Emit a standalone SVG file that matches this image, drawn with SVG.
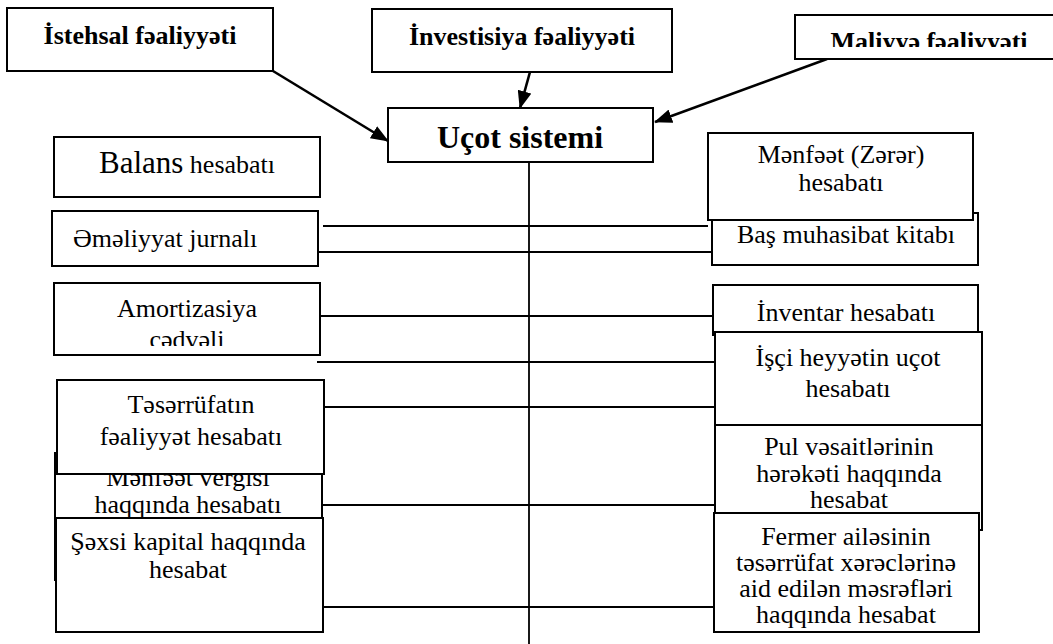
<svg xmlns="http://www.w3.org/2000/svg" width="1053" height="644" viewBox="0 0 1053 644">
<style>
.bx{fill:#fff;stroke:#000;stroke-width:2}
.t{font-family:"Liberation Serif","Times New Roman",serif;font-size:26px;fill:#000;text-anchor:middle}
.b{font-weight:bold}
.ln{stroke:#000;stroke-width:1.8;fill:none}
.ar{stroke:#000;stroke-width:2.6;fill:none;marker-end:url(#ah)}
</style>
<defs>
<marker id="ah" viewBox="0 0 18 14" refX="17" refY="7" markerWidth="18" markerHeight="14" orient="auto" markerUnits="userSpaceOnUse"><path d="M0,0 L18,7 L0,14 z" fill="#000"/></marker>
<clipPath id="cMal"><rect x="796" y="16" width="257" height="31"/></clipPath>
<clipPath id="cAm"><rect x="55" y="284" width="264" height="62"/></clipPath>
<clipPath id="cFe"><rect x="715" y="514" width="263" height="117"/></clipPath>
</defs>
<rect width="1053" height="644" fill="#fff"/>
<g id="connectors">
<line class="ar" x1="273" y1="71" x2="388" y2="141"/>
<line class="ar" x1="530" y1="72" x2="520" y2="108"/>
<line class="ar" x1="827" y1="59" x2="655" y2="122"/>
<line class="ln" x1="529" y1="162" x2="529" y2="644"/>
<line class="ln" x1="323" y1="226" x2="708" y2="226"/>
<line class="ln" x1="318" y1="252" x2="712" y2="252"/>
<line class="ln" x1="320" y1="316" x2="713" y2="316"/>
<line class="ln" x1="317" y1="362" x2="715" y2="362"/>
<line class="ln" x1="324" y1="407" x2="715" y2="407"/>
<line class="ln" x1="322" y1="505" x2="714" y2="505"/>
<line class="ln" x1="323" y1="607" x2="714" y2="607"/>
</g>
<g id="istehsal"><rect class="bx" x="7" y="8" width="266" height="63"/><text class="t b" x="140" y="44">İstehsal fəaliyyəti</text></g>
<g id="investisiya"><rect class="bx" x="372" y="9" width="300" height="63"/><text class="t b" x="522" y="45">İnvestisiya fəaliyyəti</text></g>
<g id="maliyye"><rect class="bx" x="795" y="15" width="270" height="44"/><text class="t b" x="929" y="50" clip-path="url(#cMal)">Maliyyə fəaliyyəti</text></g>
<g id="ucot"><rect class="bx" x="388" y="108" width="265" height="54"/><text class="t b" x="520" y="148" style="font-size:32px">Uçot sistemi</text></g>
<g id="balans"><rect class="bx" x="54" y="137" width="266" height="60"/><text class="t" x="187" y="173"><tspan style="font-size:31px">Balans</tspan> hesabatı</text></g>
<g id="emeliyyat"><rect class="bx" x="52" y="211" width="266" height="55"/><text class="t" x="73" y="247" style="text-anchor:start">Əməliyyat jurnalı</text></g>
<g id="amortizasiya"><rect class="bx" x="54" y="283" width="266" height="72"/><g clip-path="url(#cAm)"><text class="t" x="187" y="317">Amortizasiya</text><text class="t" x="187" y="348">cədvəli</text></g></g>
<g id="menfeet-vergisi"><rect class="bx" x="55" y="453" width="267" height="127"/><text class="t" x="188" y="486">Mənfəət vergisi</text><text class="t" x="188" y="513">haqqında hesabatı</text></g>
<g id="teserrufat"><rect class="bx" x="57" y="380" width="267" height="94"/><text class="t" x="191" y="413">Təsərrüfatın</text><text class="t" x="191" y="445">fəaliyyət hesabatı</text></g>
<g id="sexsi"><rect class="bx" x="56" y="518" width="267" height="114"/><text class="t" x="188" y="550">Şəxsi kapital haqqında</text><text class="t" x="188" y="578">hesabat</text></g>
<g id="bas"><rect class="bx" x="712" y="213" width="266" height="52"/><text class="t" x="846" y="243">Baş muhasibat kitabı</text></g>
<g id="menfeet-zerer"><rect class="bx" x="708" y="133" width="265" height="87"/><text class="t" x="841" y="163">Mənfəət (Zərər)</text><text class="t" x="841" y="191">hesabatı</text></g>
<g id="inventar"><rect class="bx" x="713" y="285" width="265" height="50"/><text class="t" x="846" y="321">İnventar hesabatı</text></g>
<g id="isci"><rect class="bx" x="715" y="332" width="267" height="93"/><text class="t" x="848" y="366">İşçi heyyətin uçot</text><text class="t" x="848" y="397">hesabatı</text></g>
<g id="pul"><rect class="bx" x="715" y="425" width="267" height="105"/><text class="t" x="849" y="455">Pul vəsaitlərinin</text><text class="t" x="849" y="482">hərəkəti haqqında</text><text class="t" x="849" y="508">hesabat</text></g>
<g id="fermer"><rect class="bx" x="714" y="513" width="265" height="119"/><g clip-path="url(#cFe)"><text class="t" x="846" y="545">Fermer ailəsinin</text><text class="t" x="846" y="571">təsərrüfat xərəclərinə</text><text class="t" x="846" y="597">aid edilən məsrəfləri</text><text class="t" x="846" y="623">haqqında hesabat</text></g></g>
</svg>
